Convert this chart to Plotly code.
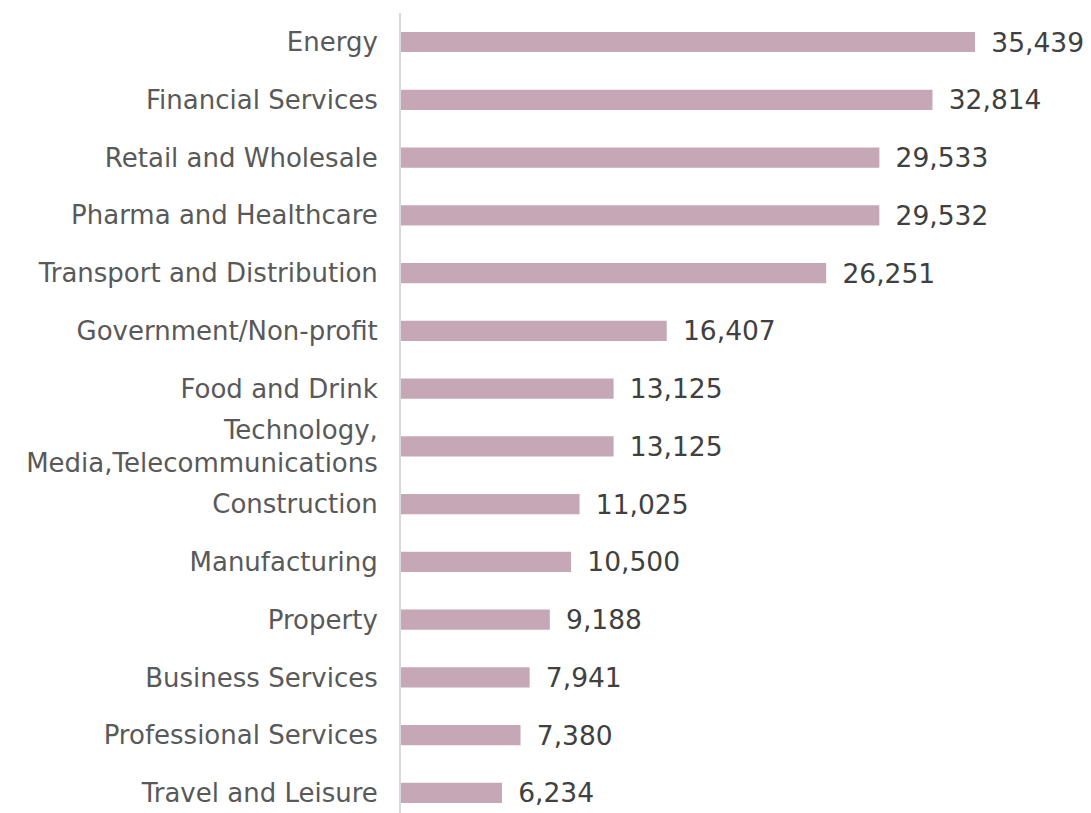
import plotly.graph_objects as go

categories = [
    "Energy",
    "Financial Services",
    "Retail and Wholesale",
    "Pharma and Healthcare",
    "Transport and Distribution",
    "Government/Non-profit",
    "Food and Drink",
    "Technology,<br>Media,Telecommunications",
    "Construction",
    "Manufacturing",
    "Property",
    "Business Services",
    "Professional Services",
    "Travel and Leisure",
]
values = [35439, 32814, 29533, 29532, 26251, 16407, 13125, 13125, 11025, 10500, 9188, 7941, 7380, 6234]

fig = go.Figure(
    go.Bar(
        x=values,
        y=categories,
        orientation="h",
        marker=dict(color="#c5a7b5", line=dict(width=0)),
        width=0.35,
        text=[f"{v:,}" for v in values],
        texttemplate="\u2002%{text}",
        textposition="outside",
        constraintext="none",
        cliponaxis=False,
        textfont=dict(family="DejaVu Sans", size=26.5, color="#404040"),
    )
)

fig.update_layout(
    width=1091,
    height=813,
    margin=dict(l=393, r=0, t=5, b=0),
    paper_bgcolor="white",
    plot_bgcolor="white",
    showlegend=False,
    xaxis=dict(visible=False, range=[0, 43094]),
    yaxis=dict(
        type="category",
        range=[13.485, -0.502],
        showline=True,
        linecolor="#d9d9d9",
        linewidth=2,
        showgrid=False,
        ticks="",
        ticklabelstandoff=16,
        automargin=False,
        tickfont=dict(family="DejaVu Sans", size=26, color="#595959"),
    ),
)

fig.write_html("out.html")
